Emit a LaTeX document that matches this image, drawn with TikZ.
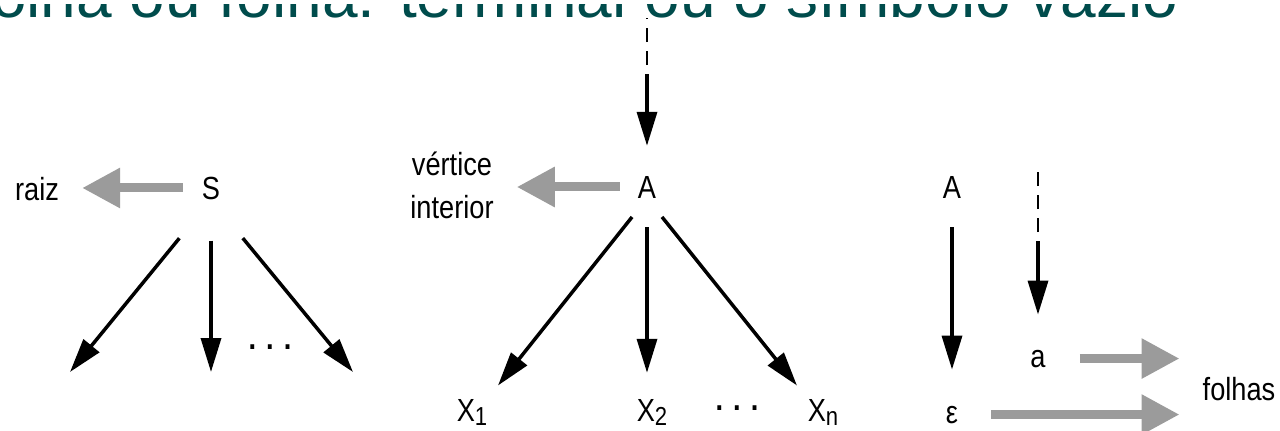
\documentclass[tikz,border=0pt]{standalone}
\usepackage{fontspec}
\usepackage{xcolor}
\usepackage{tikz}
\usetikzlibrary{arrows.meta,positioning,calc}
\newfontfamily\lblfont[FakeStretch=0.85]{Liberation Sans}
\newfontfamily\captionfont{Liberation Sans}
\definecolor{DeepTeal}{RGB}{0,76,76}
\definecolor{RoleGray}{RGB}{155,155,155}
\newcommand{\lowidx}[1]{\raisebox{-4pt}{\fontsize{26}{26}\selectfont #1}}

\begin{document}
\begin{tikzpicture}[
    x=1pt, y=-1pt,
    every node/.style={inner sep=0pt, anchor=base, font=\lblfont\fontsize{32}{43}\selectfont},
    tree edge/.style={draw=black, line width=3.5pt, -{Triangle[length=34pt,width=20pt]}},
    lead edge/.style={draw=black, line width=2.5pt, dash pattern=on 14pt off 9pt, dash phase=14pt},
    role edge/.style={draw=RoleGray, line width=9pt, -{Triangle[length=38pt,width=38pt]}}
]
\useasboundingbox (0,0) rectangle (1280,431);
\begin{scope}
\clip (0,4) rectangle (1280,431);
\node[anchor=base west, font=\captionfont\fontsize{64}{70}\selectfont, text=DeepTeal] (caption) at (-9,17) {olha ou folha: terminal ou o símbolo vazio};
\end{scope}

% raiz
\node (S) at (211,199) {S};
\node (raiz) at (37,200) {raiz};
\node (dotsS) at (270,349) {\bfseries . . .};
\coordinate (sl) at (70,372);
\coordinate (sm) at (211,372);
\coordinate (sr) at (353,372);
\draw[role edge, shorten <=19pt, shorten >=23pt] (S.west) -- (S.west -| raiz.east);
\draw[tree edge, shorten <=50pt] (S.south) -- (sl);
\draw[tree edge, shorten <=41pt] (S.south) -- (sm);
\draw[tree edge, shorten <=50pt] (S.south) -- (sr);

% vertice interior
\node (A) at (647,198) {A};
\node[align=center, anchor=center] (vi) at (452,185) {vértice\\interior};
\node (X1) at (472,421) {X\lowidx{1}};
\node (X2) at (652,421) {X\lowidx{2}};
\node (Xn) at (823,421) {X\lowidx{n}};
\node (dotsX) at (737,410) {\bfseries . . .};
\coordinate (topA) at (647,18);
\coordinate (midA) at (647,74);
\draw[lead edge] (midA) -- (topA);
\draw[tree edge, shorten >=30pt] (midA) -- (A.north);
\draw[role edge, shorten <=18pt, shorten >=23pt] (A.west) -- (A.west -| vi.east);
\draw[tree edge, shorten <=24pt, shorten >=17pt] (A.south) -- (X1.north east);
\draw[tree edge, shorten <=29pt, shorten >=26pt] (A.south) -- (A.south |- X2.north);
\draw[tree edge, shorten <=24pt, shorten >=17pt] (A.south) -- (Xn.north west);

% folhas
\node (Aeps) at (952,198) {A};
\node (leafeps) at (952,423) {ε};
\node (leafa) at (1038,367) {a};
\node (folhas) at (1239,400) {folhas};
\coordinate (topa) at (1038,172);
\coordinate (mida) at (1038,241);
\draw[lead edge] (mida) -- (topa);
\draw[tree edge, shorten >=35pt] (mida) -- (leafa.north);
\draw[tree edge, shorten <=29pt, shorten >=36pt] (Aeps.south) -- (leafeps.north);
\draw[role edge, shorten <=34pt, shorten >=23pt] (leafa.east) -- (leafa.east -| folhas.west);
\draw[role edge, shorten <=33pt, shorten >=23pt] (leafeps.east) -- (leafeps.east -| folhas.west);
\end{tikzpicture}
\end{document}
